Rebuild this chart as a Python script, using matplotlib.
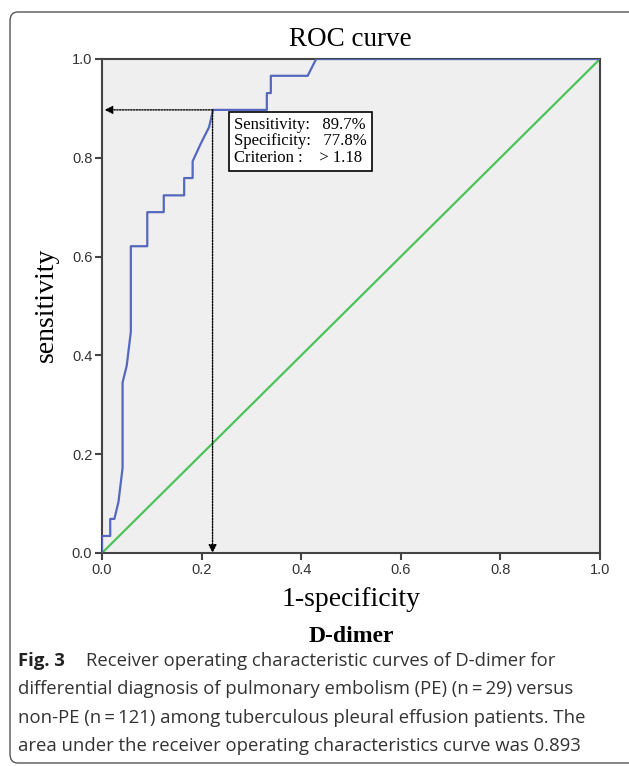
import matplotlib
matplotlib.use("Agg")
import matplotlib.pyplot as plt
from matplotlib.patches import FancyBboxPatch

# ROC curve points (1-specificity, sensitivity)
fpr = [0.0, 0.0, 0.0165, 0.0165, 0.0248, 0.033, 0.033, 0.0413, 0.0413,
       0.0496, 0.0496, 0.0579, 0.0579, 0.0909, 0.0909, 0.124, 0.124,
       0.165, 0.165, 0.182, 0.182, 0.198, 0.198, 0.215, 0.223, 0.331,
       0.331, 0.339, 0.339, 0.413, 0.430, 1.0]
sens = [0.0, 0.0345, 0.0345, 0.069, 0.069, 0.103, 0.103, 0.172, 0.345,
        0.379, 0.379, 0.448, 0.621, 0.621, 0.690, 0.690, 0.724,
        0.724, 0.759, 0.759, 0.793, 0.828, 0.828, 0.862, 0.897, 0.897,
        0.931, 0.931, 0.966, 0.966, 1.0, 1.0]

cut_x = 1 - 0.778
cut_y = 0.897
box_lines = ["Sensitivity:   89.7%", "Specificity:   77.8%", "Criterion :    > 1.18"]

ticks = [0.0, 0.2, 0.4, 0.6, 0.8, 1.0]

caption_lines = [
    "Receiver operating characteristic curves of D-dimer for",
    "differential diagnosis of pulmonary embolism (PE) (n\u2009=\u200929) versus",
    "non-PE (n\u2009=\u2009121) among tuberculous pleural effusion patients. The",
    "area under the receiver operating characteristics curve was 0.893",
]

W, H = 629, 766
fig = plt.figure(figsize=(W / 100, H / 100), dpi=100)

# page frame
frame = FancyBboxPatch((10 / W, 1 - 763 / H), 630 / W, 751 / H,
                       boxstyle="round,pad=0,rounding_size=0.012",
                       transform=fig.transFigure, fill=False,
                       edgecolor="#555555", linewidth=1.0)
fig.patches.append(frame)

ax = fig.add_axes([102 / W, 1 - 553 / H, 498 / W, 494 / H])
ax.set_facecolor("#efefef")

ax.plot([0, 1], [0, 1], color="#4cc35a", linewidth=1.6, zorder=2)
ax.plot(fpr, sens, color="#5468be", linewidth=1.6, zorder=3)

# cut-off guide lines with arrows
ax.annotate("", xy=(0.005, cut_y), xytext=(cut_x, cut_y),
            arrowprops=dict(arrowstyle="-|>", linestyle=(0, (1, 1)),
                            color="black", lw=1.0, mutation_scale=12,
                            shrinkA=0, shrinkB=0))
ax.annotate("", xy=(cut_x, 0.0), xytext=(cut_x, cut_y),
            arrowprops=dict(arrowstyle="-|>", linestyle=(0, (1, 1)),
                            color="black", lw=1.0, mutation_scale=12,
                            shrinkA=0, shrinkB=0))

ax.text(0.266, 0.833, "\n".join(box_lines), family="Liberation Serif",
        fontsize=12, va="center", ha="left", linespacing=1.05,
        bbox=dict(boxstyle="square,pad=0.3", facecolor="white",
                  edgecolor="black", linewidth=1.2), zorder=5)

ax.set_xlim(0, 1)
ax.set_ylim(0, 1)
ax.set_xticks(ticks)
ax.set_yticks(ticks)
ax.set_xticklabels([f"{t:.1f}" for t in ticks])
ax.set_yticklabels([f"{t:.1f}" for t in ticks])
ax.tick_params(length=5, width=1.5, color="#444444", labelsize=10.5,
               labelcolor="#333333", pad=2)
for lab in ax.get_xticklabels() + ax.get_yticklabels():
    lab.set_family("Liberation Sans")
for side in ["left", "bottom", "right", "top"]:
    ax.spines[side].set_color("#444444")
    ax.spines[side].set_linewidth(1.5)

fig.text(350 / W, 1 - 40 / H, "ROC curve", family="Liberation Serif",
         fontsize=19.5, ha="center", va="center")
fig.text(46 / W, 1 - 305 / H, "sensitivity", family="Liberation Serif",
         fontsize=20, ha="center", va="center", rotation=90)
fig.text(351 / W, 1 - 600 / H, "1-specificity", family="Liberation Serif",
         fontsize=20, ha="center", va="center")
fig.text(351 / W, 1 - 636 / H, "D-dimer", family="Liberation Serif",
         fontsize=17, fontweight="bold", ha="center", va="center")

# caption
cap_y = [661, 689, 718, 746]
fig.text(18 / W, 1 - cap_y[0] / H, "Fig. 3", family="Open Sans",
         fontweight="bold", fontsize=13.3, color="#222222", va="center")
fig.text(86 / W, 1 - cap_y[0] / H, caption_lines[0], family="Open Sans",
         fontsize=13.3, color="#333333", va="center")
for y, line in zip(cap_y[1:], caption_lines[1:]):
    fig.text(18 / W, 1 - y / H, line, family="Open Sans",
             fontsize=13.3, color="#333333", va="center")

fig.savefig("out.png", dpi=100)
